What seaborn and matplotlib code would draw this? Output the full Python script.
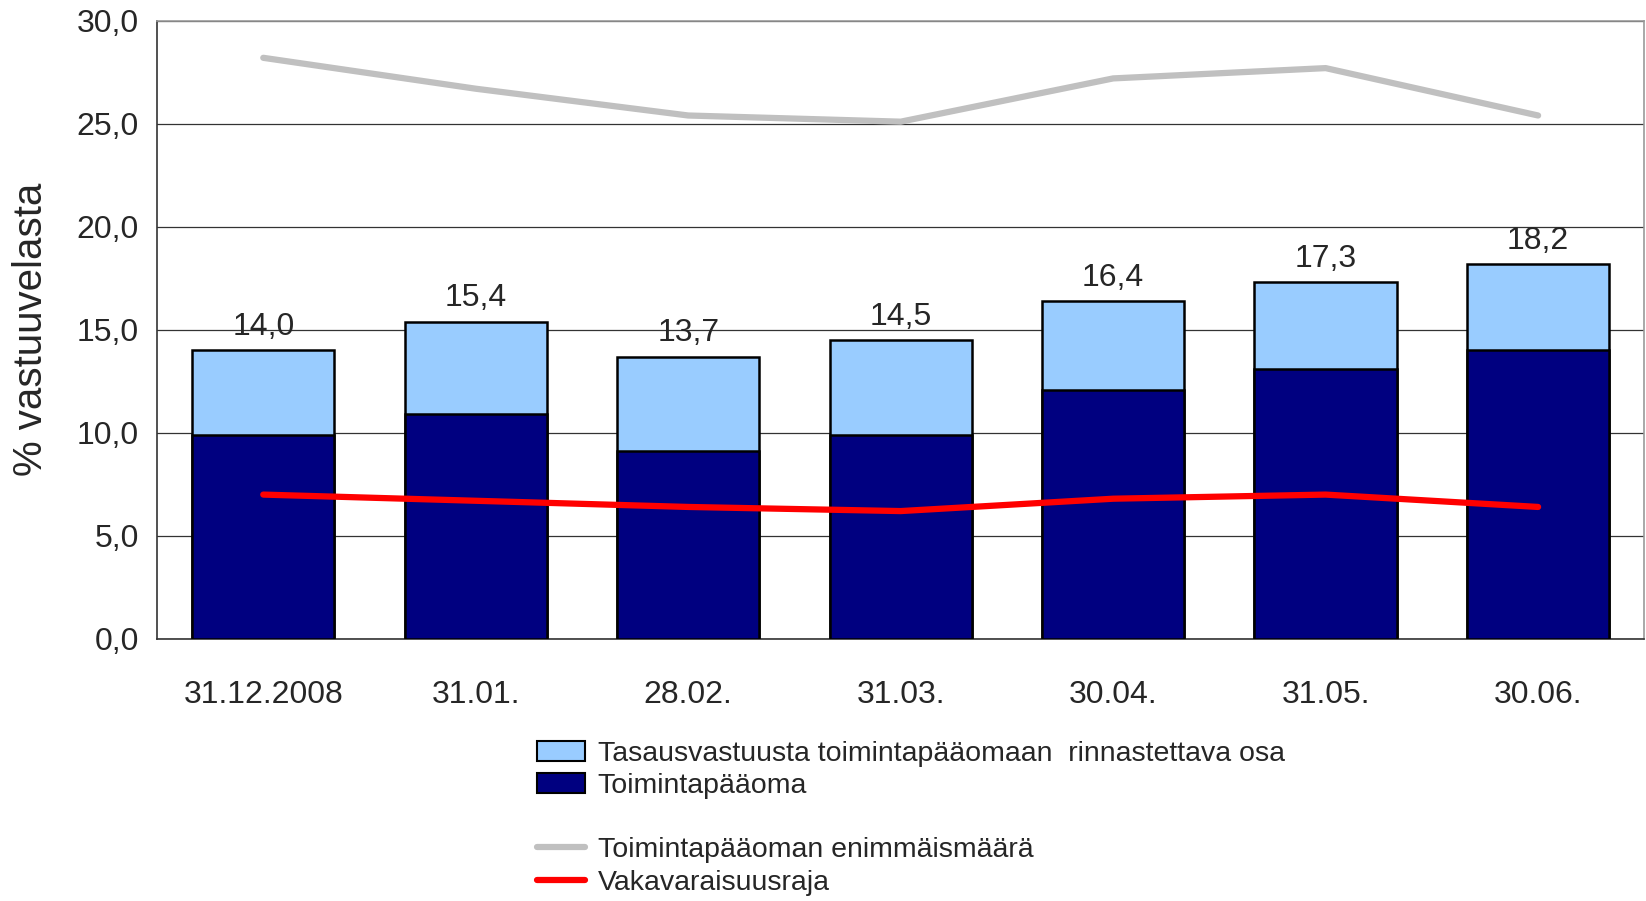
import numpy as np
import pandas as pd
import matplotlib
matplotlib.use("Agg")
import matplotlib.pyplot as plt
from matplotlib.patches import Patch
from matplotlib.lines import Line2D
from matplotlib.ticker import FixedLocator
import seaborn as sns

# data
dates = ["31.12.2008", "31.01.", "28.02.", "31.03.", "30.04.", "31.05.", "30.06."]
total = [14.0, 15.4, 13.7, 14.5, 16.4, 17.3, 18.2]
toimintapaaoma = [9.9, 10.9, 9.1, 9.9, 12.1, 13.1, 14.0]
enimmaismaara = [28.2, 26.7, 25.4, 25.1, 27.2, 27.7, 25.4]
vakavaraisuusraja = [7.0, 6.7, 6.4, 6.2, 6.8, 7.0, 6.4]

df = pd.DataFrame({"pvm": dates, "total": total, "tp": toimintapaaoma,
                   "enim": enimmaismaara, "raja": vakavaraisuusraja})
df["x"] = np.arange(len(dates))

sns.set_style("white")
plt.rcParams["font.family"] = ["Liberation Sans", "DejaVu Sans"]

light = "#99ccff"
dark = "#000080"

fig = plt.figure(figsize=(16.46, 9.01), dpi=100)
ax = fig.add_axes([0.0954, 0.291, 0.9036, 0.686])

# stacked bars: full height in light blue, lower part in dark blue
sns.barplot(data=df, x="pvm", y="total", color=light, edgecolor="black",
            linewidth=1.8, width=0.67, saturation=1, ax=ax, zorder=2)
sns.barplot(data=df, x="pvm", y="tp", color=dark, edgecolor="black",
            linewidth=1.8, width=0.67, saturation=1, ax=ax, zorder=3)

sns.lineplot(data=df, x="x", y="enim", color="#c0c0c0", linewidth=4.5,
             ax=ax, zorder=4, solid_capstyle="round")
sns.lineplot(data=df, x="x", y="raja", color="#ff0000", linewidth=4.5,
             ax=ax, zorder=4, solid_capstyle="round")

for i, v in enumerate(total):
    ax.text(i, v + 0.4, f"{v:.1f}".replace(".", ","), ha="center", va="bottom",
            fontsize=23, zorder=5)

ax.set_xlim(-0.5, len(dates) - 0.5)
ax.set_ylim(0, 30)
ax.set_yticks(np.arange(0, 31, 5))
ax.set_yticklabels([f"{t:.1f}".replace(".", ",") for t in np.arange(0, 31, 5)])
ax.set_xticks(np.arange(len(dates)))
ax.set_xticklabels(dates)
ax.xaxis.set_minor_locator(FixedLocator(np.arange(-0.5, len(dates), 1.0)))
ax.tick_params(axis="x", which="major", length=0, pad=30, labelsize=23)
ax.tick_params(axis="x", which="minor", length=8, width=1, color="#555555", direction="out")
ax.tick_params(axis="y", length=8, width=1, color="#555555", direction="out", labelsize=23, pad=5)
ax.set_xlabel("")
ax.set_ylabel("")
fig.text(0.019, 0.634, "% vastuuvelasta", rotation=90, ha="center", va="center", fontsize=29)

ax.grid(axis="y", color="#333333", linewidth=0.9)
ax.set_axisbelow(True)
ax.spines["left"].set_color("#333333")
ax.spines["bottom"].set_color("#333333")
ax.spines["top"].set_color("#999999")
ax.spines["right"].set_color("#999999")
for s in ax.spines.values():
    s.set_linewidth(1.2)
    s.set_visible(True)

handles = [
    Patch(facecolor=light, edgecolor="black", linewidth=1.5),
    Patch(facecolor=dark, edgecolor="black", linewidth=1.5),
    Line2D([], [], color="none"),
    Line2D([], [], color="#c0c0c0", linewidth=4.5),
    Line2D([], [], color="#ff0000", linewidth=4.5),
]
labels = ["Tasausvastuusta toimintapääomaan  rinnastettava osa", "Toimintapääoma", "",
          "Toimintapääoman enimmäismäärä", "Vakavaraisuusraja"]
fig.legend(handles, labels, loc="upper left", bbox_to_anchor=(0.326, 0.178),
           frameon=False, handlelength=1.7, handletextpad=0.44, labelspacing=0.22,
           borderaxespad=0, borderpad=0, prop={"size": 20.5})

fig.savefig("out.png", dpi=100)
